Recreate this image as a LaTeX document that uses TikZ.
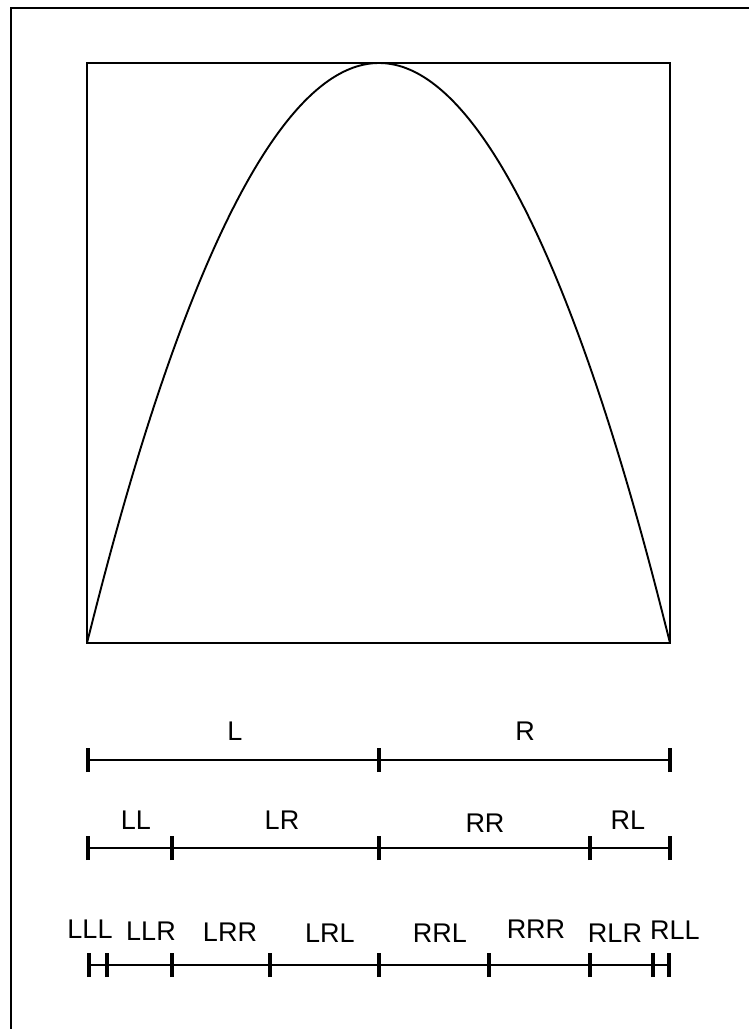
\documentclass[tikz,border=0pt]{standalone}
\usepackage{fontspec}
\setmainfont{Liberation Sans}
\begin{document}
\begin{tikzpicture}[x=1pt,y=-1pt,
  frame/.style={line width=1.6pt},
  seg/.style={line width=1.4pt},
  tick/.style={line width=3.4pt},
  lbl/.style={font=\fontsize{27}{27}\selectfont, inner sep=0pt}
]
\useasboundingbox (0,0) rectangle (749,1029);
% outer frame, its right and bottom sides lie off the page
\draw[frame] (11,1040) -- (11,8) -- (760,8);

% the map and its box
\draw[frame] (87,63) rectangle (670,643);
\draw[frame,line width=1.9pt] (87,643) parabola bend (379,63) (670,643);

% first level
\foreach \x [count=\i] in {88,379,670}
  \coordinate (a\i) at (\x,760);
\draw[seg] (a1) -- (a3);
\foreach \i in {1,...,3}
  \draw[tick] ([yshift=-12pt]a\i) -- ([yshift=12pt]a\i);
\node[lbl] (L) at (235,731) {L};
\node[lbl] (R) at (525,731) {R};

% second level
\foreach \x [count=\i] in {88,172,379,590,670}
  \coordinate (b\i) at (\x,848);
\draw[seg] (b1) -- (b5);
\foreach \i in {1,...,5}
  \draw[tick] ([yshift=-12pt]b\i) -- ([yshift=12pt]b\i);
\node[lbl] (LL) at (136,820) {LL};
\node[lbl] (LR) at (282,820) {LR};
\node[lbl] (RR) at (485,823) {RR};
\node[lbl] (RL) at (628,820) {RL};

% third level
\foreach \x [count=\i] in {89,107,172,270,379,489,590,653,669}
  \coordinate (c\i) at (\x,965);
\draw[seg] (c1) -- (c9);
\foreach \i in {1,...,9}
  \draw[tick] ([yshift=-12pt]c\i) -- ([yshift=12pt]c\i);
\node[lbl] (LLL) at (90,929) {LLL};
\node[lbl] (LLR) at (151,931) {LLR};
\node[lbl] (LRR) at (230,932) {LRR};
\node[lbl] (LRL) at (330,933) {LRL};
\node[lbl] (RRL) at (440,933) {RRL};
\node[lbl] (RRR) at (536,929) {RRR};
\node[lbl] (RLR) at (615,933) {RLR};
\node[lbl] (RLL) at (675,930) {RLL};
\end{tikzpicture}
\end{document}
